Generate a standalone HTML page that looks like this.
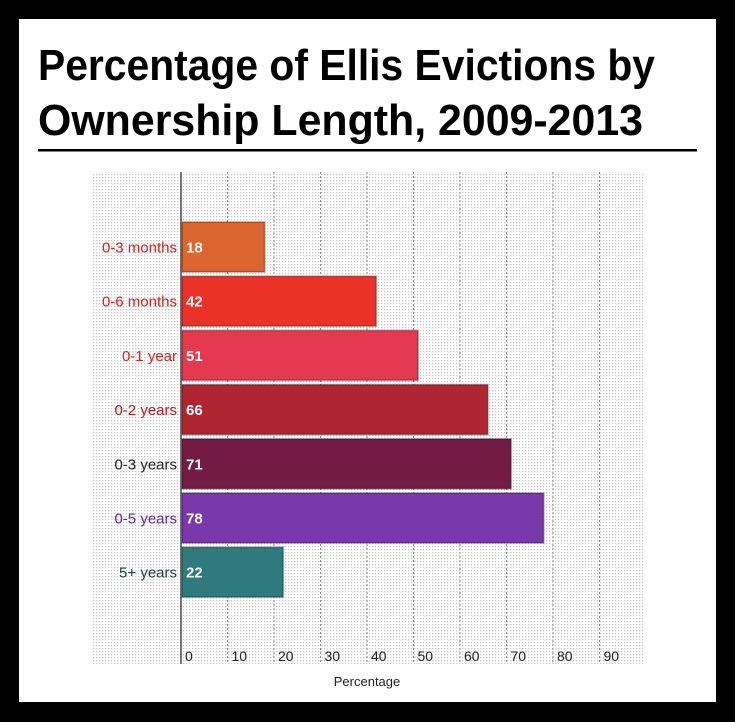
<!DOCTYPE html>
<html><head><meta charset="utf-8"><style>
html,body{margin:0;padding:0;background:#000;}
svg{display:block;font-family:"Liberation Sans",sans-serif;}
</style></head><body>
<svg width="735" height="722" viewBox="0 0 735 722">
<defs>
<pattern id="dots" width="3" height="3" patternUnits="userSpaceOnUse"><rect x="0" y="0" width="1.3" height="1.3" fill="#c8c8c8"/></pattern>
</defs>
<rect x="0" y="0" width="735" height="722" fill="#000"/>
<rect x="19" y="19" width="697" height="683" fill="#fff"/>
<text x="38" y="80" font-size="44" font-weight="bold" fill="#000" textLength="617" lengthAdjust="spacingAndGlyphs">Percentage of Ellis Evictions by</text>
<text x="38" y="135" font-size="44" font-weight="bold" fill="#000" textLength="605" lengthAdjust="spacingAndGlyphs">Ownership Length, 2009-2013</text>
<rect x="38" y="149" width="659" height="2.5" fill="#000"/>
<rect x="92" y="172" width="553" height="492" fill="url(#dots)"/>
<g id="grid"></g>
<g id="bars"></g>
<line x1="181" y1="172" x2="181" y2="664" stroke="#222" stroke-width="1.2"/>
<g id="ticks"></g>
<text x="367" y="686" font-size="13" fill="#222" text-anchor="middle">Percentage</text>
</svg>
<script>
const categories=["0-3 months","0-6 months","0-1 year","0-2 years","0-3 years","0-5 years","5+ years"];
const values=[18,42,51,66,71,78,22];
const barColors=["#dd6630","#ea3228","#e5394f","#b02630","#721b45","#7a38ad","#2e7a7c"];
const labelColors=["#d8221e","#d8221e","#d8221e","#b02020","#222","#5a2aa0","#1f3b3d"];
const tickValues=[0,10,20,30,40,50,60,70,80,90];
const NS="http://www.w3.org/2000/svg";
const x0=181,pxPer=4.65;
function xs(v){return x0+v*pxPer;}
function yb(i){return 222+i*54.2;}
const bh=50;
function mk(t,a){const e=document.createElementNS(NS,t);for(const k in a)e.setAttribute(k,a[k]);return e;}
const grid=document.getElementById('grid'),ticks=document.getElementById('ticks'),bars=document.getElementById('bars');
tickValues.forEach(v=>{
 if(v>0){const l=mk('line',{x1:xs(v),y1:172,x2:xs(v),y2:664,stroke:'#888','stroke-width':1,'stroke-dasharray':'2,2'});
 
 
 grid.appendChild(l);}
 const t=mk('text',{x:xs(v)+4,y:661,'font-size':14,fill:'#222'});t.textContent=v;
 
 
 ticks.appendChild(t);
});
categories.forEach((c,i)=>{
 const y=yb(i);
 const r=mk('rect',{x:x0+1,y:y,width:xs(values[i])-x0-1,height:bh,fill:barColors[i],stroke:'rgba(0,0,0,0.25)','stroke-width':2});
 
 
 bars.appendChild(r);
 const v=mk('text',{x:x0+5,y:y+bh/2+5.5,'font-size':15,'font-weight':'bold',fill:'#fff'});v.textContent=values[i];
 
 
 bars.appendChild(v);
 const lb=mk('text',{x:177,y:y+bh/2+5.5,'font-size':15,fill:labelColors[i],'text-anchor':'end'});lb.textContent=c;
 
 
 bars.appendChild(lb);
});
</script>
</body></html>
